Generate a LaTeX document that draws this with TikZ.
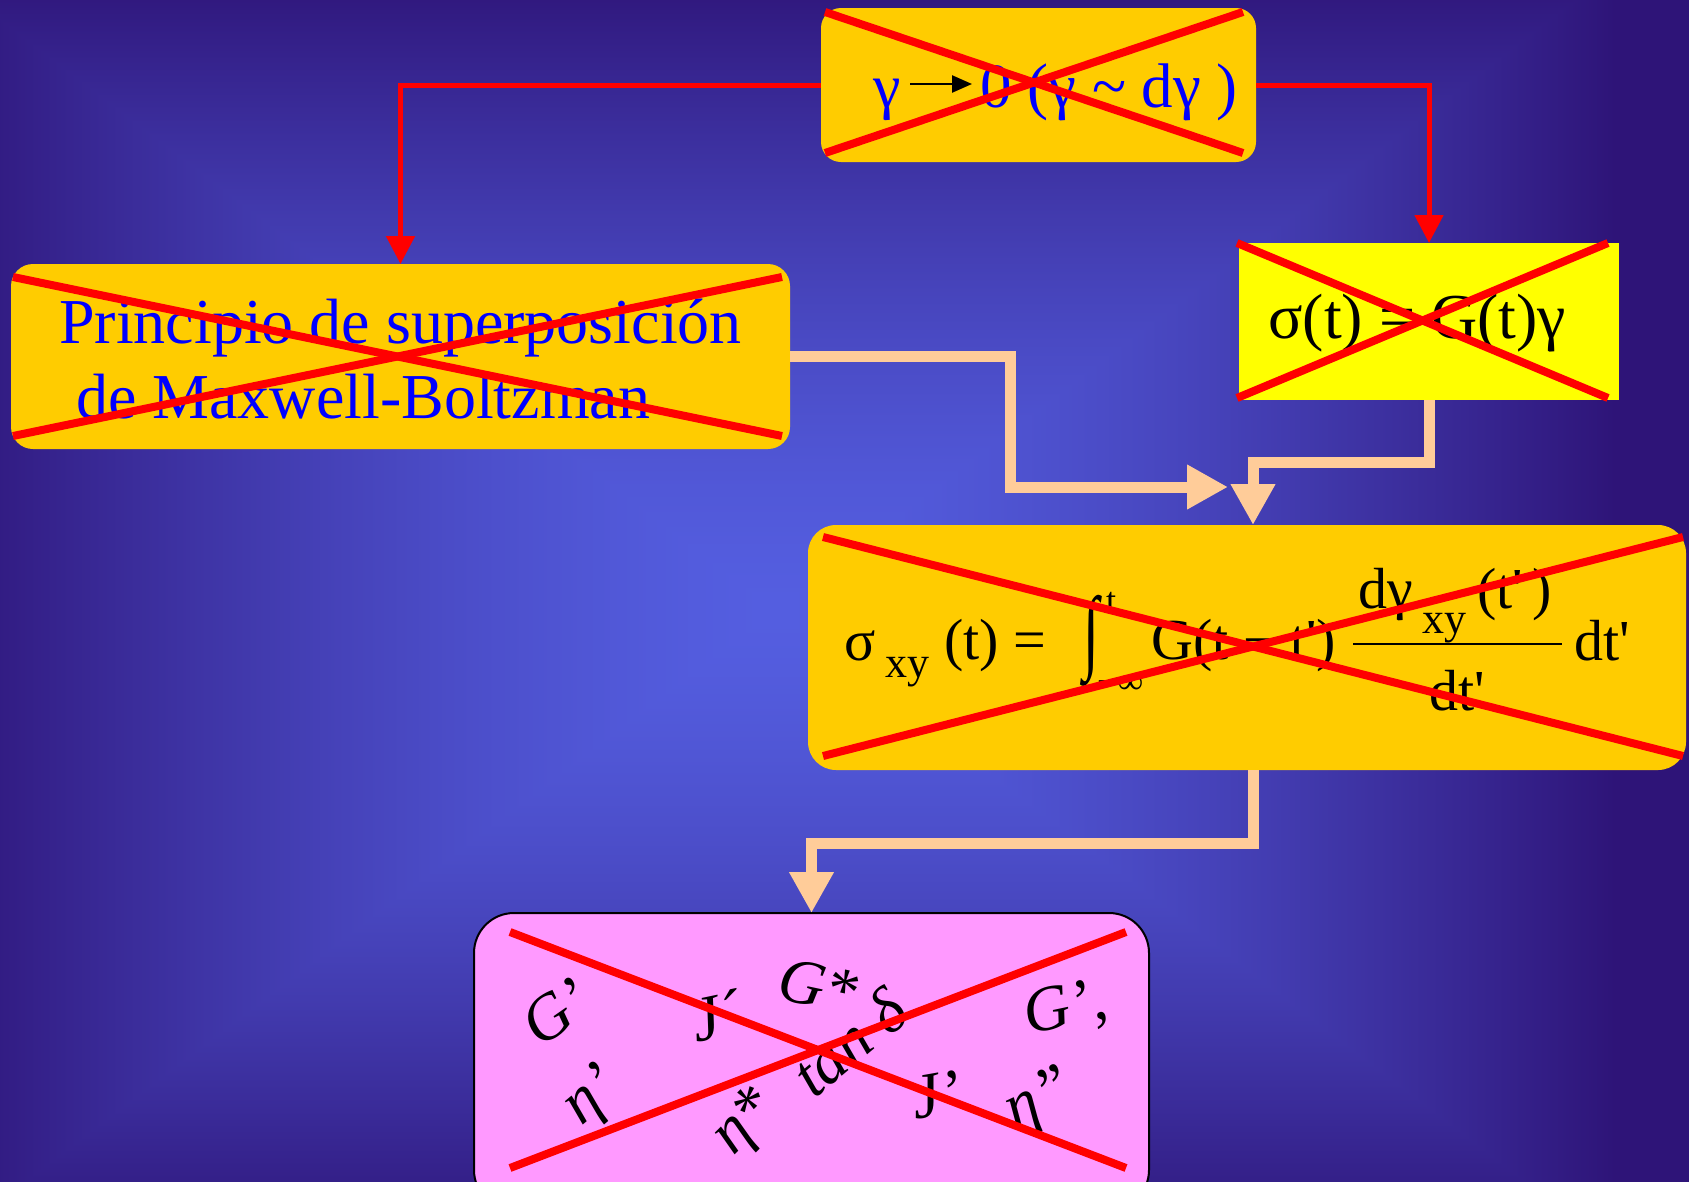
\documentclass[tikz,border=0pt]{standalone}
\usepackage{graphicx}
\usepackage{fontspec}
\setmainfont{Liberation Serif}
\usetikzlibrary{arrows.meta,calc}
\definecolor{bgE}{RGB}{46,20,120}
\definecolor{boxorange}{RGB}{255,204,0}
\definecolor{boxyellow}{RGB}{255,255,0}
\definecolor{boxpink}{RGB}{255,153,255}
\definecolor{peach}{RGB}{255,204,153}
\definecolor{crossred}{RGB}{255,0,0}
\definecolor{txtblue}{RGB}{0,0,255}
\newcommand{\myfs}[1]{\fontsize{#1pt}{#1pt}\selectfont}
\pgfdeclarefunctionalshading{bgrect}{\pgfpoint{-50bp}{-50bp}}{\pgfpoint{50bp}{50bp}}{}{
  abs exch abs 2 copy lt {exch} if pop
  25 div dup 1 gt {pop 1} if
  dup sqrt mul
  dup 38 mul 84 exch sub 255 div
  exch dup 74 mul 94 exch sub 255 div
  exch 104 mul 224 exch sub 255 div
}
\tikzset{
  obox/.style={fill=boxorange, inner sep=0pt, outer sep=0pt, rounded corners=22pt},
  ybox/.style={fill=boxyellow, inner sep=0pt, outer sep=0pt},
  pbox/.style={fill=boxpink, draw=black, line width=2pt, inner sep=0pt, outer sep=0pt, rounded corners=40pt},
  crossline/.style={draw=crossred, line width=8pt},
  redconn/.style={draw=crossred, line width=5pt, -{Triangle[length=28pt,width=28pt]}},
  peachconn/.style={draw=peach, line width=11pt, -{Triangle[length=41pt,width=42pt]}},
  btxt/.style={text=txtblue, inner sep=0pt, anchor=base west},
  ktxt/.style={text=black, inner sep=0pt, anchor=base west},
  ptxt/.style={text=black, inner sep=0pt, anchor=center, font=\myfs{64}\itshape},
}
\begin{document}
\begin{tikzpicture}[x=1pt,y=-1pt]
\useasboundingbox (0,0) rectangle (1689,1181);
% background (drawn slightly past the page so no white edge remains)
\begin{scope}
\clip (-10,-10) rectangle (1700,1195);
\fill[bgE] (-10,-10) rectangle (1700,1195);
\shade[shading=bgrect] (-65,-30) rectangle (1615,1250);
\end{scope}

% boxes
\node[obox, rounded corners=20pt, minimum width=435pt, minimum height=154pt] (top) at (1038.5,85) {};
\node[obox, minimum width=779pt, minimum height=185pt] (pb) at (400.5,356.5) {};
\node[ybox, minimum width=380pt, minimum height=157pt] (sg) at (1429,321.5) {};
\node[obox, rounded corners=28pt, minimum width=878pt, minimum height=245pt] (fb) at (1247,647.5) {};
\node[pbox, minimum width=675pt, minimum height=297pt] (pk) at (811.5,1061.5) {};

% red connectors
\draw[redconn] (top.west) -| (pb.north);
\draw[redconn] (top.east) -| (sg.north);

% peach connectors
\coordinate (p1bend) at (1010,487);
\coordinate (p1end) at (1228,487);
\coordinate (p2mid) at (1253,462);
\draw[peachconn] (pb.east) -| (p1bend) -- (p1end);
\draw[peachconn] (sg.south) |- (p2mid) -- (p2mid |- fb.north);
\draw[peachconn] (fb.south -| p2mid) |- ($(pk.north)+(0,-70)$) -- (pk.north);

% top box text
\node[btxt, font=\myfs{62}] (tg) at (873,107) {γ};
\coordinate (ar1) at (910,84);
\coordinate (ar2) at (972,84);
\draw[line width=2.5pt, -{Triangle[length=20pt,width=17pt]}] (ar1) -- (ar2);
\node[btxt, font=\myfs{63}] (tr) at (980,107) {0 (γ \textasciitilde{} dγ )};
\draw[crossline] (825,12) -- (1243,153);
\draw[crossline] (825,153) -- (1243,12);

% sigma box
\node[ktxt, font=\myfs{64}] (st) at (1268,338) {σ(t) = G(t)γ};
\draw[crossline] (1237,243) -- (1608,398);
\draw[crossline] (1237,398) -- (1608,243);

% principio box
\node[btxt, font=\myfs{64}] (l1) at (59,343) {Principio de superposición};
\node[btxt, font=\myfs{64}] (l2) at (76,418) {de Maxwell-Boltzman};
\draw[crossline] (13,277) -- (782,436);
\draw[crossline] (13,436) -- (782,277);

% formula box
\node[ktxt, font=\myfs{58}] (f1) at (844,660) {σ};
\node[ktxt, font=\myfs{44}] (f2) at (885,677) {xy};
\node[ktxt, font=\myfs{58}] (f3) at (944,659) {(t) =};
\node[inner sep=0pt, anchor=center, font=\myfs{58}] (f4) at (1091,641) {\scalebox{1}[1.6]{∫}};
\node[ktxt, font=\myfs{36}] (f5) at (1106,612) {t};
\node[ktxt, font=\myfs{36}] (f6) at (1097,693) {−∞};
\node[ktxt, font=\myfs{58}] (f7) at (1151,659) {G(t − t\textquotesingle)};
\coordinate (barL) at (1353,644);
\coordinate (barR) at (1562,644);
\draw[line width=2pt] (barL) -- (barR);
\node[ktxt, font=\myfs{58}] (f8) at (1358,608) {dγ};
\node[ktxt, font=\myfs{44}] (f9) at (1422,633) {xy};
\node[ktxt, font=\myfs{58}] (f10) at (1477,608) {(t\textquotesingle\,)};
\node[ktxt, font=\myfs{58}] (f11) at (1429,710) {dt\textquotesingle};
\node[ktxt, font=\myfs{58}] (f12) at (1574,660) {dt\textquotesingle};
\draw[crossline] (823,537) -- (1683,756);
\draw[crossline] (823,756) -- (1683,537);

% pink box texts
\node[ptxt, rotate=35] (q1) at (556,1012) {G’};
\node[ptxt, rotate=12] (q2) at (716,1016) {J´};
\node[ptxt, rotate=-12] (q3) at (818,986) {G*};
\node[ptxt, rotate=40] (q4) at (849,1042) {tan δ};
\node[ptxt, rotate=12] (q5) at (1066,1010) {G’,};
\node[ptxt, rotate=40] (q6) at (593,1098) {η’};
\node[ptxt, rotate=45] (q7) at (746,1124) {η*};
\node[ptxt, rotate=10] (q8) at (936,1095) {J’};
\node[ptxt, rotate=25] (q9) at (1040,1102) {η”};
\draw[crossline] (510,932) -- (1126,1168);
\draw[crossline] (510,1168) -- (1126,932);
\end{tikzpicture}
\end{document}
